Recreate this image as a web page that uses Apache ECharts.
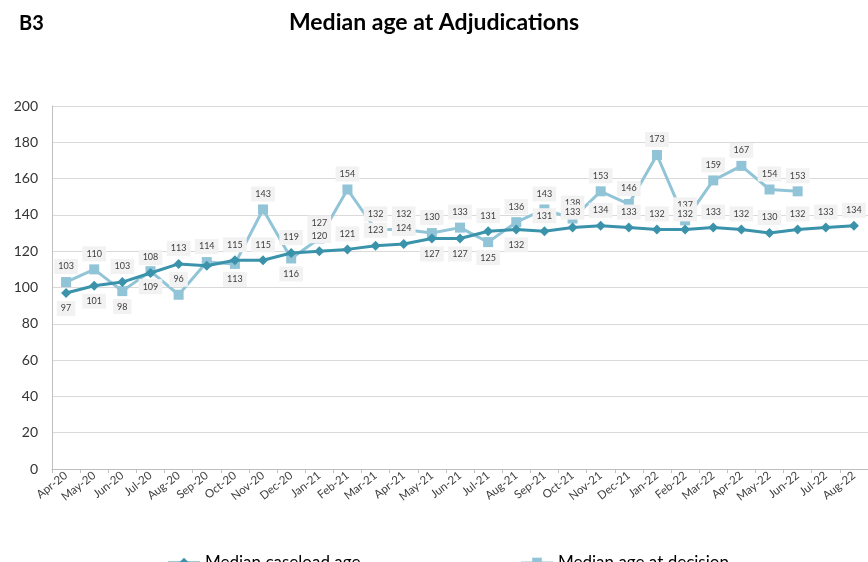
<!DOCTYPE html>
<html>
<head>
<meta charset="utf-8">
<script src="https://cdn.jsdelivr.net/npm/echarts@6/dist/echarts.min.js"></script>
<style>
  html, body { margin: 0; padding: 0; background: #fff; }
  #main { width: 868px; height: 562px; }
</style>
</head>
<body>
<div id="main"></div>
<script>
    // months Apr-20 .. Aug-22
    var months = ['Apr-20', 'May-20', 'Jun-20', 'Jul-20', 'Aug-20', 'Sep-20', 'Oct-20', 'Nov-20', 'Dec-20',
        'Jan-21', 'Feb-21', 'Mar-21', 'Apr-21', 'May-21', 'Jun-21', 'Jul-21', 'Aug-21', 'Sep-21', 'Oct-21',
        'Nov-21', 'Dec-21', 'Jan-22', 'Feb-22', 'Mar-22', 'Apr-22', 'May-22', 'Jun-22', 'Jul-22', 'Aug-22'];

    var caseloadAge = [97, 101, 103, 108, 113, 112, 115, 115, 119, 120, 121, 123, 124, 127, 127, 131, 132,
        131, 133, 134, 133, 132, 132, 133, 132, 130, 132, 133, 134];

    var decisionAge = [103, 110, 98, 109, 96, 114, 113, 143, 116, 127, 154, 132, 132, 130, 133, 125, 136,
        143, 138, 153, 146, 173, 137, 159, 167, 154, 153, null, null];

    var yTicks = [0, 20, 40, 60, 80, 100, 120, 140, 160, 180, 200];

    // label placement per point (Excel labels were nudged by hand)
    var caseloadLabelPos = ['bottom', 'bottom', 'top', 'top', 'top', 'none', 'top', 'top', 'top', 'top',
        'top', 'top', 'top', 'bottom', 'bottom', 'top', 'bottom', 'top', 'top', 'top', 'top', 'top', 'top',
        'top', 'top', 'top', 'top', 'top', 'top'];
    var decisionLabelPos = ['top', 'top', 'bottom', 'bottom', 'top', 'top', 'bottom', 'top', 'bottom', 'top',
        'top', 'top', 'top', 'top', 'top', 'bottom', 'top', 'top', 'top', 'top', 'top', 'top', 'top', 'top',
        'top', 'top', 'top', 'top', 'top'];

    var darkTeal = '#3a93ab';
    var lightBlue = '#92c4d7';

    function withLabels(values, positions) {
        return values.map(function (v, i) {
            if (v === null) return null;
            var pos = positions[i];
            return {
                value: v,
                label: { show: pos !== 'none', position: pos === 'none' ? 'top' : pos }
            };
        });
    }

    var baseLabel = {
        show: true,
        fontFamily: 'Lato',
        fontSize: 9,
        color: '#404040',
        backgroundColor: '#f2f2f2',
        padding: [3, 4],
        distance: 3
    };

    var myChart = echarts.init(document.getElementById('main'));
    var option = {
        backgroundColor: '#ffffff',
        animation: false,
        textStyle: { fontFamily: 'Lato' },
        title: [{
            text: 'Median age at Adjudications',
            left: 'center',
            top: 6,
            textStyle: { fontFamily: 'Lato', fontSize: 23, fontWeight: 'bold', color: '#000' }
        }, {
            text: 'B3',
            left: 14,
            top: 9,
            textStyle: { fontFamily: 'Lato', fontSize: 20, fontWeight: 'bold', color: '#000' }
        }],
        legend: [{
            data: ['Median caseload age'],
            left: 162,
            top: 549,
            itemWidth: 32,
            itemHeight: 12,
            itemGap: 4,
            textStyle: { fontSize: 17, color: '#000', fontFamily: 'Lato' }
        }, {
            data: ['Median age at decision'],
            left: 515,
            top: 549,
            itemWidth: 32,
            itemHeight: 12,
            textStyle: { fontSize: 17, color: '#000', fontFamily: 'Lato' }
        }],
        grid: {
            left: 52,
            right: -2,
            top: 106,
            bottom: 93
        },
        xAxis: {
            type: 'category',
            data: months,
            boundaryGap: true,
            axisLine: { lineStyle: { color: '#bfbfbf', width: 1 } },
            axisTick: { show: true, length: 4, lineStyle: { color: '#bfbfbf' } },
            axisLabel: {
                rotate: 38,
                interval: 0,
                fontSize: 11.5,
                color: '#404040',
                margin: 5
            }
        },
        yAxis: {
            type: 'value',
            min: yTicks[0],
            max: yTicks[yTicks.length - 1],
            interval: yTicks[1] - yTicks[0],
            axisLine: { show: true, lineStyle: { color: '#bfbfbf' } },
            axisTick: { show: false },
            axisLabel: { fontSize: 14, color: '#333', margin: 14 },
            splitLine: { lineStyle: { color: '#d9d9d9', width: 1 } }
        },
        series: [{
            name: 'Median caseload age',
            type: 'line',
            data: withLabels(caseloadAge, caseloadLabelPos),
            symbol: 'diamond',
            symbolSize: 10,
            lineStyle: { color: darkTeal, width: 3 },
            itemStyle: { color: darkTeal },
            label: baseLabel,
            z: 3
        }, {
            name: 'Median age at decision',
            type: 'line',
            data: withLabels(decisionAge, decisionLabelPos),
            symbol: 'rect',
            symbolSize: 10,
            connectNulls: false,
            lineStyle: { color: lightBlue, width: 3 },
            itemStyle: { color: lightBlue },
            label: baseLabel,
            z: 2
        }]
    };
    myChart.setOption(option);
</script>
</body>
</html>
